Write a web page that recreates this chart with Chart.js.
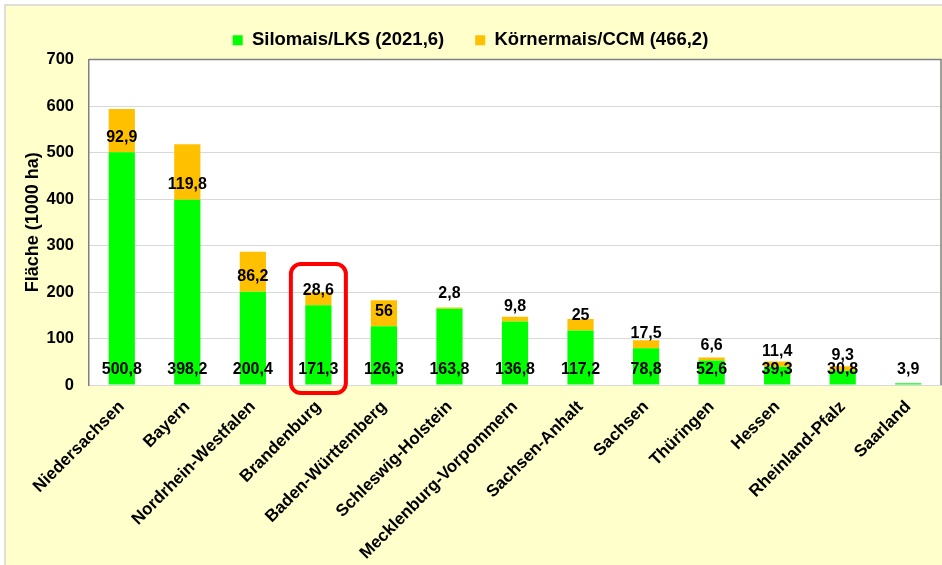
<!DOCTYPE html>
<html>
<head>
<meta charset="utf-8">
<script src="https://cdn.jsdelivr.net/npm/chart.js@4"></script>
<style>
  body { margin: 0; background: #ffffff; }
  #wrap { position: relative; width: 942px; height: 565px; }
</style>
</head>
<body>
<div id="wrap"><canvas id="grafico"></canvas></div>
<script>
// Daten (1000 ha)
var laender = ["Niedersachsen", "Bayern", "Nordrhein-Westfalen", "Brandenburg", "Baden-Württemberg",
    "Schleswig-Holstein", "Mecklenburg-Vorpommern", "Sachsen-Anhalt", "Sachsen", "Thüringen",
    "Hessen", "Rheinland-Pfalz", "Saarland"];
var silomais = [500.8, 398.2, 200.4, 171.3, 126.3, 163.8, 136.8, 117.2, 78.8, 52.6, 39.3, 30.8, 3.9];
var koernermais = [92.9, 119.8, 86.2, 28.6, 56, 2.8, 9.8, 25, 17.5, 6.6, 11.4, 9.3, 0];
var serienNamen = ["Silomais/LKS (2021,6)", "Körnermais/CCM (466,2)"];
var yTicks = [0, 100, 200, 300, 400, 500, 600, 700];
var markiert = "Brandenburg";

var schrift = "'Liberation Sans', Arial, sans-serif";

function zahl(v) {
    return String(v).replace('.', ',');
}

// Hintergrund, Rahmen, Werte und Markierung
var zeichnen = {
    id: 'zeichnen',
    beforeDraw: function (chart) {
        var ctx = chart.ctx;
        var a = chart.chartArea;
        ctx.save();
        ctx.fillStyle = '#ffffff';
        ctx.fillRect(0, 0, chart.width, chart.height);
        ctx.fillStyle = '#ffffcc';
        ctx.fillRect(5, 5, chart.width - 5, chart.height - 5);
        ctx.strokeStyle = '#d4d4d4';
        ctx.lineWidth = 1.5;
        ctx.beginPath();
        ctx.moveTo(5, chart.height);
        ctx.lineTo(5, 5);
        ctx.lineTo(chart.width, 5);
        ctx.stroke();
        ctx.fillStyle = '#ffffff';
        ctx.fillRect(a.left, a.top, a.right - a.left, a.bottom - a.top);
        ctx.restore();
    },
    afterDatasetsDraw: function (chart) {
        var ctx = chart.ctx;
        var a = chart.chartArea;
        var xs = chart.scales.x;
        var ys = chart.scales.y;
        ctx.save();
        // Rahmen oben und rechts
        ctx.strokeStyle = '#808080';
        ctx.lineWidth = 1.5;
        ctx.beginPath();
        ctx.moveTo(a.left, a.top);
        ctx.lineTo(a.right, a.top);
        ctx.lineTo(a.right, a.bottom);
        ctx.stroke();

        ctx.fillStyle = '#000000';
        ctx.font = 'bold 16px ' + schrift;
        ctx.textAlign = 'center';
        ctx.textBaseline = 'middle';
        for (var i = 0; i < laender.length; i++) {
            var x = xs.getPixelForValue(i);
            ctx.fillText(zahl(silomais[i]), x, ys.getPixelForValue(0) - 15);
            if (koernermais[i] > 0) {
                ctx.fillText(zahl(koernermais[i]), x, ys.getPixelForValue(silomais[i]) - 15);
            }
        }

        // rote Markierung
        var k = laender.indexOf(markiert);
        var cx = xs.getPixelForValue(k);
        var oben = ys.getPixelForValue(silomais[k] + koernermais[k]) - 28;
        var unten = ys.getPixelForValue(0) + 8;
        ctx.strokeStyle = '#ff0000';
        ctx.lineWidth = 4;
        ctx.beginPath();
        ctx.roundRect(cx - 27.5, oben, 55, unten - oben, 10);
        ctx.stroke();
        ctx.restore();
    }
};

var grafico = new Chart(document.getElementById('grafico').getContext('2d'), {
    type: 'bar',
    data: {
        labels: laender,
        datasets: [{
            label: serienNamen[0],
            data: silomais,
            backgroundColor: '#00ff00',
            borderWidth: 0
        }, {
            label: serienNamen[1],
            data: koernermais,
            backgroundColor: '#ffc000',
            borderWidth: 0
        }]
    },
    options: {
        responsive: true,
        maintainAspectRatio: false,
        animation: false,
        layout: { padding: { left: 0, right: 1, top: 0, bottom: 0 } },
        datasets: { bar: { categoryPercentage: 1, barPercentage: 0.4 } },
        plugins: {
            legend: {
                position: 'top',
                labels: {
                    boxWidth: 10,
                    boxHeight: 10,
                    padding: 31,
                    color: '#000000',
                    font: { family: schrift, size: 18.5, weight: 'bold' }
                }
            },
            tooltip: { enabled: false }
        },
        scales: {
            x: {
                stacked: true,
                afterFit: function (s) { s.height = 180; },
                grid: { display: false },
                border: { color: '#d9d9d9' },
                ticks: {
                    autoSkip: false,
                    maxRotation: 45,
                    minRotation: 45,
                    padding: 4,
                    color: '#000000',
                    font: { family: schrift, size: 17, weight: 'bold' }
                }
            },
            y: {
                stacked: true,
                min: 0,
                max: 700,
                afterFit: function (s) { s.width = 89; },
                afterBuildTicks: function (s) {
                    s.ticks = yTicks.map(function (v) { return { value: v }; });
                },
                grid: { color: '#d9d9d9', drawTicks: false },
                border: { color: '#808080', width: 1.5 },
                ticks: {
                    padding: 15,
                    color: '#000000',
                    font: { family: schrift, size: 16.5, weight: 'bold' }
                },
                title: {
                    display: true,
                    text: 'Fläche (1000 ha)',
                    color: '#000000',
                    padding: { top: 22, bottom: 0 },
                    font: { family: schrift, size: 18, weight: 'bold' }
                }
            }
        }
    },
    plugins: [zeichnen]
});
</script>
</body>
</html>
